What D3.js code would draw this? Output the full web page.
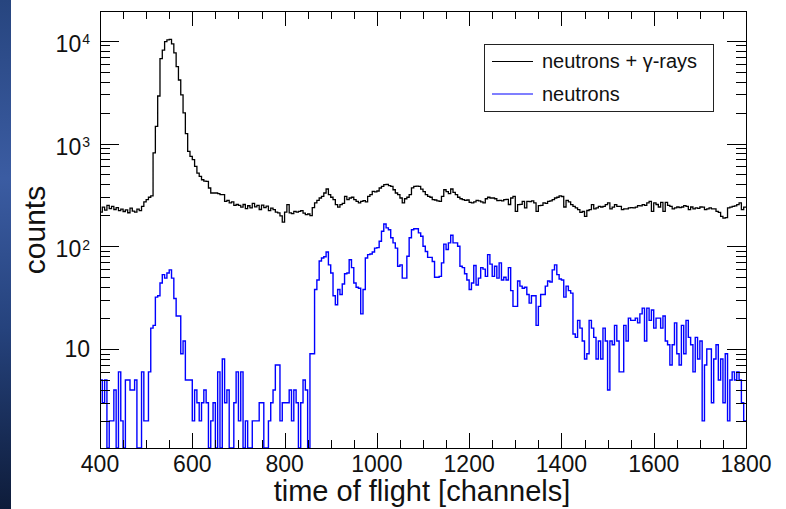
<!DOCTYPE html>
<html>
<head>
<meta charset="utf-8">
<script src="https://cdn.jsdelivr.net/npm/d3@7"></script>
<style>
  body { margin: 0; background: #fff; }
  svg { display: block; font-family: "Liberation Sans", Arial, sans-serif; }
</style>
</head>
<body>
<div id="container"></div>
<script>

/* DATA */

// histogram binning: 5 channels per bin, starting at channel 400
var binStart = 400,
  binWidth = 5;

// neutrons + gamma-rays (black)
var gammaCounts = [
  215, 240, 225, 250, 232, 245, 228, 238, 222, 230,
  218, 226, 212, 235, 220, 215, 230, 222, 245, 270,
  285, 300, 310, 810, 1470, 2900, 6700, 8100, 9800, 10200,
  10300, 9300, 7600, 5600, 4150, 2970, 1990, 1250, 837, 750,
  697, 599, 516, 479, 444, 430, 428, 369, 330, 330,
  330, 325, 318, 318, 274, 280, 265, 270, 250, 255,
  250, 240, 255, 232, 248, 236, 262, 242, 250, 228,
  252, 238, 246, 222, 235, 227, 215, 211, 198, 172,
  215, 254, 211, 208, 219, 215, 219, 222, 210, 203,
  206, 199, 238, 264, 280, 295, 306, 330, 361, 318,
  300, 284, 254, 240, 254, 262, 306, 284, 295, 300,
  284, 274, 264, 274, 278, 270, 306, 318, 342, 338,
  345, 369, 383, 398, 400, 390, 383, 355, 330, 318,
  295, 264, 290, 300, 318, 370, 383, 385, 383, 360,
  340, 318, 306, 300, 284, 282, 276, 274, 306, 355,
  340, 325, 361, 335, 318, 300, 290, 284, 280, 282,
  268, 264, 270, 280, 276, 270, 264, 290, 300, 295,
  295, 290, 278, 280, 276, 284, 286, 255, 295, 306,
  219, 254, 256, 274, 236, 274, 272, 276, 264, 219,
  249, 250, 264, 262, 274, 276, 284, 295, 300, 310,
  305, 241, 280, 270, 254, 245, 236, 227, 214, 218,
  195, 223, 227, 254, 231, 236, 245, 241, 245, 254,
  264, 231, 240, 254, 245, 245, 227, 231, 231, 236,
  238, 236, 240, 249, 247, 254, 250, 264, 274, 219,
  264, 255, 241, 268, 219, 268, 250, 245, 231, 236,
  241, 238, 241, 249, 245, 227, 241, 231, 236, 234,
  241, 240, 227, 231, 236, 231, 231, 219, 214, 195,
  188, 190, 236, 240, 245, 247, 254, 264, 227, 240
];

// neutrons only (blue)
var neutronCounts = [
  5, 3, 5, 0, 2, 2, 4, 0, 6, 2,
  1, 5, 5, 4, 4, 5, 0, 1, 6, 2,
  2, 6, 16, 17, 32, 33, 44, 53, 49, 55,
  59, 49, 31, 21, 21, 9, 12, 5, 5, 5,
  2, 4, 3, 2, 3, 4, 3, 0, 2, 3,
  1, 6, 0, 8, 3, 4, 0, 0, 3, 6,
  2, 6, 0, 2, 0, 1, 2, 2, 2, 3,
  3, 0, 1, 2, 3, 4, 7, 7, 2, 3,
  3, 3, 4, 2, 4, 3, 0, 3, 5, 4,
  1, 9, 9, 38, 47, 72, 77, 79, 88, 66,
  55, 33, 27, 38, 34, 43, 54, 55, 74, 62,
  44, 40, 39, 22, 38, 77, 83, 84, 88, 96,
  97, 112, 140, 165, 151, 145, 121, 108, 96, 64,
  66, 49, 49, 80, 121, 145, 148, 148, 135, 125,
  100, 89, 78, 78, 71, 50, 50, 51, 69, 105,
  93, 108, 128, 108, 108, 100, 64, 62, 54, 47,
  38, 44, 65, 42, 49, 62, 60, 51, 83, 67,
  51, 64, 49, 69, 47, 50, 47, 62, 37, 26,
  26, 46, 41, 39, 40, 34, 28, 33, 33, 17,
  26, 34, 34, 41, 46, 45, 59, 66, 53, 48,
  47, 32, 41, 37, 35, 14, 13, 19, 16, 12,
  8, 9, 19, 16, 13, 8, 12, 8, 16, 12,
  4, 12, 11, 17, 12, 6, 6, 17, 12, 20,
  19, 19, 20, 18, 22, 25, 12, 25, 19, 24,
  16, 20, 20, 16, 21, 12, 11, 7, 11, 18,
  9, 7, 17, 9, 19, 13, 11, 6, 13, 8,
  12, 2, 7, 10, 10, 3, 8, 11, 5, 8,
  3, 9, 2, 5, 6, 5, 6, 5, 3, 2
];

var xMajorTicks = [400, 600, 800, 1000, 1200, 1400, 1600, 1800];
var yMajorTicks = [10, 100, 1000, 10000];
var yTickLabels = [["10", ""], ["10", "2"], ["10", "3"], ["10", "4"]];
var legendLabels = ["neutrons + \u03b3-rays", "neutrons"];
var xTitle = "time of flight [channels]";
var yTitle = "counts";

/* CONSTANTS */

var width = 786,
  height = 509,
  frame = { left: 100, right: 746, top: 11, bottom: 448 },
  yMin = 1.09,
  yMax = 19460;

/* SVG */

var svg = d3.select("#container")
  .append("svg")
  .attr("width", width)
  .attr("height", height);

// slide background strip on the left
var grad = svg.append("defs").append("linearGradient")
  .attr("id", "strip")
  .attr("x1", 0).attr("y1", 0).attr("x2", 0).attr("y2", 1);
grad.append("stop").attr("offset", "0%").attr("stop-color", "#27457f");
grad.append("stop").attr("offset", "35%").attr("stop-color", "#3b5ca2");
grad.append("stop").attr("offset", "65%").attr("stop-color", "#25427c");
grad.append("stop").attr("offset", "100%").attr("stop-color", "#0e1c3a");
svg.append("rect")
  .attr("x", 0).attr("y", 0)
  .attr("width", 11).attr("height", height)
  .attr("fill", "url(#strip)");

svg.select("defs").append("clipPath")
  .attr("id", "plotArea")
  .append("rect")
  .attr("x", frame.left).attr("y", frame.top)
  .attr("width", frame.right - frame.left)
  .attr("height", frame.bottom - frame.top);

/* SCALES */

var x = d3.scaleLinear()
  .domain([400, 1800])
  .range([frame.left, frame.right]);

var y = d3.scaleLog()
  .domain([yMin, yMax])
  .range([frame.bottom, frame.top]);

var xMinorTicks = d3.range(400, 1801, 50).filter(d => xMajorTicks.indexOf(d) < 0);
var yMinorTicks = [];
[1, 10, 100, 1000, 10000].forEach(function (dec) {
  for (var m = 2; m <= 9; m++) {
    if (dec * m > yMin && dec * m < yMax) yMinorTicks.push(dec * m);
  }
});

/* HISTOGRAMS */

function stepPath(counts) {
  var pts = counts.map(function (c, i) {
    return [x(binStart + i * binWidth), y(Math.max(c, yMin))];
  });
  var last = counts[counts.length - 1];
  pts.push([x(binStart + counts.length * binWidth), y(Math.max(last, yMin))]);
  return d3.line().curve(d3.curveStepAfter)(pts);
}

var plot = svg.append("g").attr("clip-path", "url(#plotArea)");

plot.append("path")
  .attr("d", stepPath(gammaCounts))
  .attr("fill", "none")
  .attr("stroke", "#000")
  .attr("stroke-width", 1.3);

plot.append("path")
  .attr("d", stepPath(neutronCounts))
  .attr("fill", "none")
  .attr("stroke", "#0000ff")
  .attr("stroke-width", 1.4);

/* AXES */

function ticks(axis, pos) {
  svg.append("g")
    .attr("transform", pos)
    .attr("shape-rendering", "crispEdges")
    .call(axis.tickFormat(""))
    .call(g => g.select(".domain").remove());
}

ticks(d3.axisBottom(x).tickValues(xMajorTicks).tickSize(-15), "translate(0," + frame.bottom + ")");
ticks(d3.axisBottom(x).tickValues(xMinorTicks).tickSize(-8), "translate(0," + frame.bottom + ")");
ticks(d3.axisTop(x).tickValues(xMajorTicks).tickSize(-15), "translate(0," + frame.top + ")");
ticks(d3.axisTop(x).tickValues(xMinorTicks).tickSize(-8), "translate(0," + frame.top + ")");
ticks(d3.axisLeft(y).tickValues(yMajorTicks).tickSize(-19), "translate(" + frame.left + ",0)");
ticks(d3.axisLeft(y).tickValues(yMinorTicks).tickSize(-10), "translate(" + frame.left + ",0)");
ticks(d3.axisRight(y).tickValues(yMajorTicks).tickSize(-19), "translate(" + frame.right + ",0)");
ticks(d3.axisRight(y).tickValues(yMinorTicks).tickSize(-10), "translate(" + frame.right + ",0)");

// frame
svg.append("rect")
  .attr("x", frame.left).attr("y", frame.top)
  .attr("width", frame.right - frame.left)
  .attr("height", frame.bottom - frame.top)
  .attr("fill", "none")
  .attr("stroke", "#000")
  .attr("stroke-width", 1)
  .attr("shape-rendering", "crispEdges");

// x tick labels
svg.append("g")
  .selectAll("text")
  .data(xMajorTicks)
  .enter()
  .append("text")
  .attr("x", d => x(d))
  .attr("y", 472)
  .attr("text-anchor", "middle")
  .attr("font-size", 23)
  .attr("fill", "#111")
  .text(d => d);

// y tick labels, 10 with exponent
var yLab = svg.append("g")
  .selectAll("text")
  .data(yMajorTicks)
  .enter()
  .append("text")
  .attr("x", 90)
  .attr("y", (d, i) => y(d) + (i == 0 ? 8 : 11))
  .attr("text-anchor", "end")
  .attr("font-size", 23)
  .attr("fill", "#111");
yLab.append("tspan").text((d, i) => yTickLabels[i][0]);
yLab.append("tspan")
  .attr("font-size", 14)
  .attr("dx", 1)
  .attr("dy", -7.5)
  .text((d, i) => yTickLabels[i][1]);

// axis titles
svg.append("text")
  .attr("x", 422)
  .attr("y", 501)
  .attr("text-anchor", "middle")
  .attr("font-size", 29)
  .attr("fill", "#111")
  .text(xTitle);

svg.append("text")
  .attr("transform", "translate(45,230)rotate(-90)")
  .attr("text-anchor", "middle")
  .attr("font-size", 30)
  .attr("fill", "#111")
  .text(yTitle);

/* LEGEND */

var legend = svg.append("g");
legend.append("rect")
  .attr("x", 484).attr("y", 44)
  .attr("width", 229).attr("height", 67)
  .attr("fill", "#fff")
  .attr("stroke", "#222")
  .attr("stroke-width", 1)
  .attr("shape-rendering", "crispEdges");

var legendColors = ["#000", "#0000ff"];
legendLabels.forEach(function (lab, i) {
  var ly = 61.5 + i * 32.5;
  legend.append("line")
    .attr("x1", 492).attr("x2", 533)
    .attr("y1", ly).attr("y2", ly)
    .attr("stroke", legendColors[i])
    .attr("stroke-width", 1.2);
  legend.append("text")
    .attr("x", 542)
    .attr("y", ly + 6.5)
    .attr("font-size", 20)
    .attr("fill", "#111")
    .text(lab);
});

</script>
</body>
</html>
